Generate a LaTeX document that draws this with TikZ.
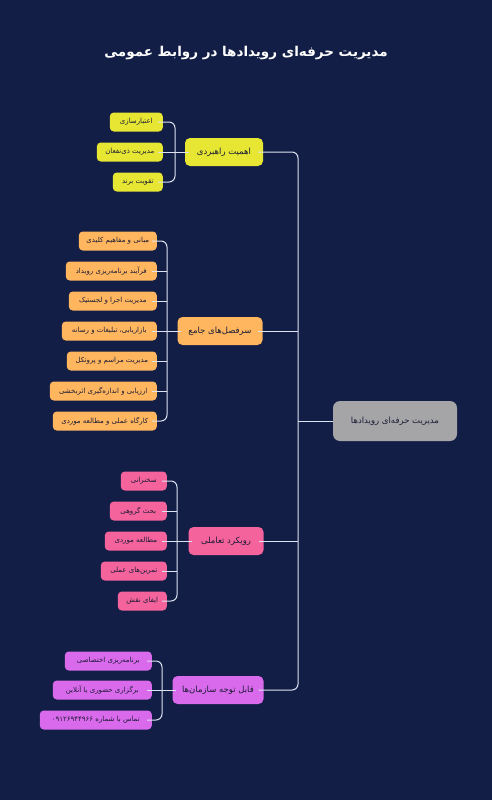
\documentclass[tikz,border=0pt]{standalone}
\usepackage{fontspec}
\newfontfamily\farsi[Script=Arabic]{DejaVu Sans}
\TeXXeTstate=1
\newcommand{\rtl}[1]{\beginR #1\endR}
\usetikzlibrary{positioning}

\definecolor{bg_navy}{HTML}{131E47}
\definecolor{ink}{HTML}{1A1C36}
\definecolor{link_white}{HTML}{DDE3F0}
\definecolor{root_gray}{HTML}{A5A5A8}
\definecolor{yellow_fill}{HTML}{E6E633}
\definecolor{orange_fill}{HTML}{FFB65E}
\definecolor{pink_fill}{HTML}{F4639C}
\definecolor{purple_fill}{HTML}{DA6AEC}

\begin{document}
\begin{tikzpicture}[
x=1pt, y=-1pt,
title_text/.style={text=white, font=\farsi\bfseries\fontsize{13.5}{16}\selectfont},
root_box/.style={rectangle, rounded corners=7pt, fill=root_gray, text=ink, font=\farsi\fontsize{8.5}{10}\selectfont, minimum width=124pt, minimum height=40pt},
branch_box/.style={rectangle, rounded corners=5pt, text=ink, font=\farsi\fontsize{8.5}{10}\selectfont, minimum height=28pt, inner xsep=5pt},
leaf_box/.style={rectangle, rounded corners=4pt, text=ink, font=\farsi\fontsize{7}{8}\selectfont, minimum height=19pt, inner xsep=3pt, anchor=east},
link_line/.style={draw=link_white, line width=1pt, rounded corners=6pt}
]

\fill[bg_navy] (0,0) rectangle (492,800);
\useasboundingbox (0,0) rectangle (492,800);

\node[title_text](title) at (246,53) {\rtl{مدیریت حرفه‌ای رویدادها در روابط عمومی}};

% root and main branches
\node[root_box](root) at (395,421) {\rtl{مدیریت حرفه‌ای رویدادها}};

\node[branch_box, fill=yellow_fill, minimum width=78pt](importance) at (224,152) {\rtl{اهمیت راهبردی}};
\node[branch_box, fill=orange_fill, minimum width=85pt](topics) at (220,331) {\rtl{سرفصل‌های جامع}};
\node[branch_box, fill=pink_fill, minimum width=75pt](approach) at (226,541) {\rtl{رویکرد تعاملی}};
\node[branch_box, fill=purple_fill, minimum width=91pt](orgs) at (218,690) {\rtl{قابل توجه سازمان‌ها}};

% leaves: importance
\node[leaf_box, fill=yellow_fill, minimum width=53pt](credit) at (163,122) {\rtl{اعتبارسازی}};
\node[leaf_box, fill=yellow_fill, minimum width=66pt](stakeholders) at (163,152) {\rtl{مدیریت ذی‌نفعان}};
\node[leaf_box, fill=yellow_fill, minimum width=50pt](brand) at (163,182) {\rtl{تقویت برند}};

% leaves: topics
\node[leaf_box, fill=orange_fill, minimum width=78pt](basics) at (157,241) {\rtl{مبانی و مفاهیم کلیدی}};
\node[leaf_box, fill=orange_fill, minimum width=91pt](planning) at (157,271) {\rtl{فرآیند برنامه‌ریزی رویداد}};
\node[leaf_box, fill=orange_fill, minimum width=88pt](logistics) at (157,301) {\rtl{مدیریت اجرا و لجستیک}};
\node[leaf_box, fill=orange_fill, minimum width=95pt](marketing) at (157,331) {\rtl{بازاریابی، تبلیغات و رسانه}};
\node[leaf_box, fill=orange_fill, minimum width=90pt](protocol) at (157,361) {\rtl{مدیریت مراسم و پروتکل}};
\node[leaf_box, fill=orange_fill, minimum width=107pt](evaluation) at (157,391) {\rtl{ارزیابی و اندازه‌گیری اثربخشی}};
\node[leaf_box, fill=orange_fill, minimum width=104pt](workshop) at (157,421) {\rtl{کارگاه عملی و مطالعه موردی}};

% leaves: approach
\node[leaf_box, fill=pink_fill, minimum width=46pt](lecture) at (167,481) {\rtl{سخنرانی}};
\node[leaf_box, fill=pink_fill, minimum width=57pt](discussion) at (167,511) {\rtl{بحث گروهی}};
\node[leaf_box, fill=pink_fill, minimum width=62pt](casestudy) at (167,541) {\rtl{مطالعه موردی}};
\node[leaf_box, fill=pink_fill, minimum width=66pt](exercises) at (167,571) {\rtl{تمرین‌های عملی}};
\node[leaf_box, fill=pink_fill, minimum width=49pt](roleplay) at (167,601) {\rtl{ایفای نقش}};

% leaves: orgs
\node[leaf_box, fill=purple_fill, minimum width=87pt](custom) at (152,661) {\rtl{برنامه‌ریزی اختصاصی}};
\node[leaf_box, fill=purple_fill, minimum width=99pt](online) at (152,690) {\rtl{برگزاری حضوری یا آنلاین}};
\node[leaf_box, fill=purple_fill, minimum width=112pt](contact) at (152,720) {\rtl{تماس با شماره \beginL ۰۹۱۲۶۹۴۴۹۶۶\endL{}}};

% trunk from root to the branches
\coordinate (trunk) at (298,421);
\draw[link_line] ([xshift=-5pt]importance.east) -| (trunk) |- ([xshift=-5pt]orgs.east);
\draw[link_line] ([xshift=-5pt]topics.east) -- (topics.east -| trunk);
\draw[link_line] ([xshift=-5pt]approach.east) -- (approach.east -| trunk);
\draw[link_line] (trunk) -- (root.west);

% brackets from branches to leaves
\coordinate (importance_bus) at (175,152);
\draw[link_line] ([xshift=-5pt]credit.east) -| (importance_bus) |- ([xshift=-5pt]brand.east);
\draw[link_line] ([xshift=-5pt]stakeholders.east) -- ([xshift=4pt]importance.west);

\coordinate (topics_bus) at (167,331);
\draw[link_line] ([xshift=-5pt]basics.east) -| (topics_bus) |- ([xshift=-5pt]workshop.east);
\draw[link_line] ([xshift=-5pt]planning.east) -- (planning.east -| topics_bus);
\draw[link_line] ([xshift=-5pt]logistics.east) -- (logistics.east -| topics_bus);
\draw[link_line] ([xshift=-5pt]marketing.east) -- ([xshift=4pt]topics.west);
\draw[link_line] ([xshift=-5pt]protocol.east) -- (protocol.east -| topics_bus);
\draw[link_line] ([xshift=-5pt]evaluation.east) -- (evaluation.east -| topics_bus);

\coordinate (approach_bus) at (177,541);
\draw[link_line] ([xshift=-5pt]lecture.east) -| (approach_bus) |- ([xshift=-5pt]roleplay.east);
\draw[link_line] ([xshift=-5pt]discussion.east) -- (discussion.east -| approach_bus);
\draw[link_line] ([xshift=-5pt]casestudy.east) -- ([xshift=4pt]approach.west);
\draw[link_line] ([xshift=-5pt]exercises.east) -- (exercises.east -| approach_bus);

\coordinate (orgs_bus) at (162,690);
\draw[link_line] ([xshift=-5pt]custom.east) -| (orgs_bus) |- ([xshift=-5pt]contact.east);
\draw[link_line] ([xshift=-5pt]online.east) -- ([xshift=4pt]orgs.west);

\end{tikzpicture}
\end{document}
